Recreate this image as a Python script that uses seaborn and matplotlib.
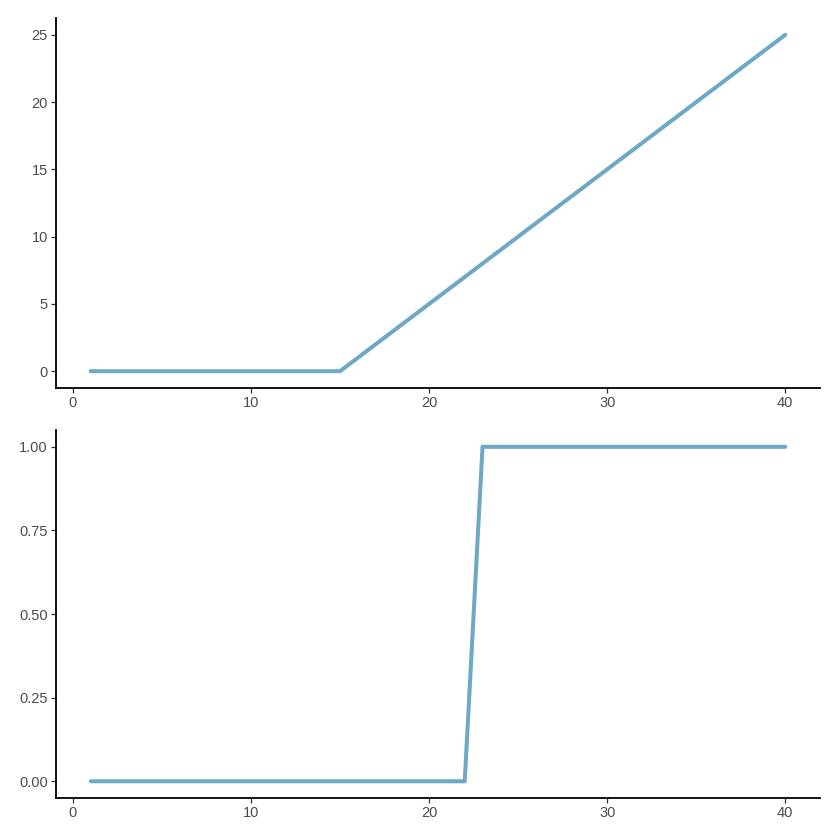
import matplotlib
matplotlib.use("Agg")
import matplotlib.pyplot as plt
import seaborn as sns
import pandas as pd

x = list(range(1, 41))
top_y = [0, 0, 0, 0, 0, 0, 0, 0, 0, 0, 0, 0, 0, 0, 0,
         1, 2, 3, 4, 5, 6, 7, 8, 9, 10, 11, 12, 13, 14, 15,
         16, 17, 18, 19, 20, 21, 22, 23, 24, 25]
bottom_y = [0, 0, 0, 0, 0, 0, 0, 0, 0, 0, 0, 0, 0, 0, 0, 0, 0, 0, 0, 0, 0, 0,
            1, 1, 1, 1, 1, 1, 1, 1, 1, 1, 1, 1, 1, 1, 1, 1, 1, 1]
x_ticks = [0, 10, 20, 30, 40]
top_ticks = [0, 5, 10, 15, 20, 25]
bottom_ticks = [0.0, 0.25, 0.5, 0.75, 1.0]
bottom_labels = ["0.00", "0.25", "0.50", "0.75", "1.00"]

sns.set_style("white")
plt.rcParams['font.family'] = ['Liberation Sans', 'DejaVu Sans']

color = "#6DA9C4"
fig = plt.figure(figsize=(8.4, 8.4), dpi=100)
ax1 = fig.add_axes([0.0667, 0.5381, 0.9095, 0.4405])
ax2 = fig.add_axes([0.0667, 0.05, 0.9095, 0.438])

df = pd.DataFrame({"x": x, "top": top_y, "bottom": bottom_y})
sns.lineplot(data=df, x="x", y="top", ax=ax1, color=color, linewidth=2.9)
sns.lineplot(data=df, x="x", y="bottom", ax=ax2, color=color, linewidth=2.9)

for ax in (ax1, ax2):
    ax.set_xlim(1 - 0.05 * 39, 40 + 0.05 * 39)
    ax.set_xticks(x_ticks)
    ax.set_xlabel("")
    ax.set_ylabel("")
    for s in ("top", "right"):
        ax.spines[s].set_visible(False)
    for s in ("left", "bottom"):
        ax.spines[s].set_color("black")
        ax.spines[s].set_linewidth(1.3)
    ax.tick_params(axis="both", which="both", length=3.3, width=0.9, color="#333333",
                   labelsize=10.5, labelcolor="#4D4D4D", pad=2.5,
                   bottom=True, left=True)

ax1.set_ylim(-1.25, 26.25)
ax1.set_yticks(top_ticks)
ax2.set_ylim(-0.05, 1.05)
ax2.set_yticks(bottom_ticks)
ax2.set_yticklabels(bottom_labels)

fig.savefig("out.png", dpi=100)
